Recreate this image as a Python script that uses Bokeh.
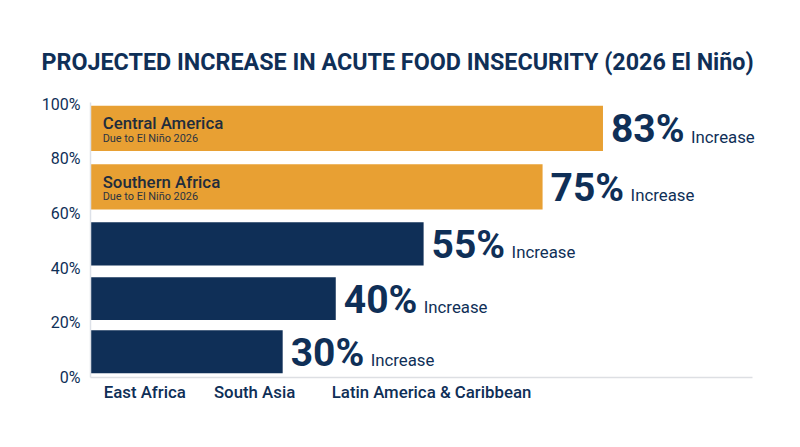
from bokeh.plotting import figure
from bokeh.models import ColumnDataSource, FixedTicker, Range1d, Title, Text
from bokeh.core.properties import value
from bokeh.embed import file_html
from bokeh.resources import INLINE

title_text = "PROJECTED INCREASE IN ACUTE FOOD INSECURITY (2026 El Niño)"
pct_labels = ["83%", "75%", "55%", "40%", "30%"]
bar_lengths = [84.0, 74.1, 54.6, 40.2, 31.5]
bar_tops = [99.4, 78.0, 56.8, 36.7, 17.3]
bar_bottoms = [82.9, 61.5, 41.0, 21.0, 1.6]
bar_colors = ["#E8A033", "#E8A033", "#0F2F57", "#0F2F57", "#0F2F57"]
suffix = ["Increase"] * 5
inner_names = ["Central America", "Southern Africa"]
inner_sub = ["Due to El Niño 2026", "Due to El Niño 2026"]
y_ticks = [0, 20, 40, 60, 80, 100]
x_tick_pos = [8.9, 26.9, 55.9]
x_tick_labels = ["East Africa", "South Asia", "Latin America & Caribbean"]

NAVY = "#0F2F57"
FONT = "Roboto"
MEDIUM = "Roboto Medium"

p = figure(width=792, height=431, output_backend="svg", toolbar_location=None,
           x_range=Range1d(0, 114.9), y_range=Range1d(0, 100.6),
           min_border_left=90, min_border_right=0, min_border_top=102, min_border_bottom=0)
p.frame_width = 701
p.frame_height = 275
p.outline_line_color = None
p.grid.grid_line_color = None
p.background_fill_color = "white"

t = Title(text=title_text, text_font=FONT, text_font_style="bold", text_font_size="23.3px",
          text_color=NAVY, align="left", offset=-49, standoff=54)
p.add_layout(t, "above")

# bars
src = ColumnDataSource(dict(left=[0] * 5, right=bar_lengths, top=bar_tops, bottom=bar_bottoms,
                            color=bar_colors, pct=pct_labels, suf=suffix,
                            mid=[(a + b) / 2 for a, b in zip(bar_tops, bar_bottoms)]))
p.quad(left="left", right="right", top="top", bottom="bottom", fill_color="color",
       line_color=None, source=src)
p.add_glyph(src, Text(x="right", y="mid", text="pct", x_offset=8, y_offset=1,
                      text_font=value(FONT), text_font_style="bold", text_font_size=value("39px"),
                      text_color=NAVY, text_baseline="middle"))
p.add_glyph(src, Text(x="right", y="mid", text="suf", x_offset=88, y_offset=8.3,
                      text_font=value(FONT), text_font_size=value("16.8px"), text_color=NAVY,
                      text_baseline="middle"))

# inner labels
src2 = ColumnDataSource(dict(x=[2.0, 2.0], y=bar_tops[:2], name=inner_names, sub=inner_sub))
p.add_glyph(src2, Text(x="x", y="y", text="name", y_offset=17.5, text_font=value(MEDIUM),
                       text_font_size=value("16.8px"), text_color="#1F2D3D", text_baseline="middle"))
p.add_glyph(src2, Text(x="x", y="y", text="sub", y_offset=32.4, text_font=value(FONT),
                       text_font_size=value("10.9px"), text_color="#2B3442", text_baseline="middle"))

# axes
p.yaxis.ticker = FixedTicker(ticks=y_ticks)
p.yaxis.major_label_overrides = {v: f"{v}%" for v in y_ticks}
p.yaxis.major_label_text_font = FONT
p.yaxis.major_label_text_font_size = "16px"
p.yaxis.major_label_text_color = NAVY
p.yaxis.major_tick_line_color = None
p.yaxis.major_tick_out = 0
p.yaxis.minor_tick_line_color = None
p.yaxis.axis_line_color = "#DDE1E8"
p.yaxis.axis_line_width = 1.5
p.yaxis.major_label_standoff = 10

p.xaxis.ticker = FixedTicker(ticks=x_tick_pos)
p.xaxis.major_label_overrides = dict(zip(x_tick_pos, x_tick_labels))
p.xaxis.major_label_text_font = MEDIUM
p.xaxis.major_label_text_font_size = "16.8px"
p.xaxis.major_label_text_color = NAVY
p.xaxis.major_tick_line_color = None
p.xaxis.major_tick_out = 0
p.xaxis.minor_tick_line_color = None
p.xaxis.axis_line_color = "#DDDFE3"
p.xaxis.axis_line_width = 1.5
p.xaxis.major_label_standoff = 4
p.xaxis.bounds = (0, 108.5)

open("out.html", "w").write(file_html(p, INLINE))
